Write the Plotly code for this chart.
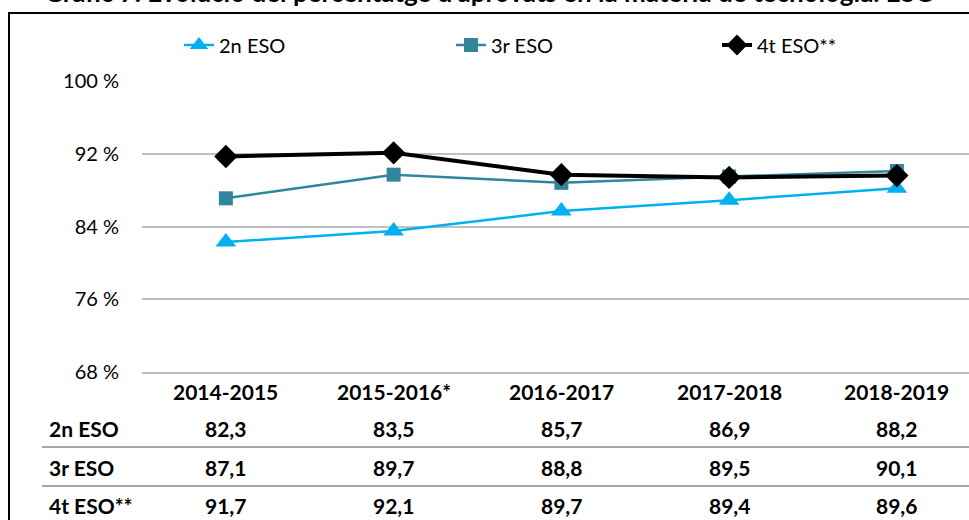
import plotly.graph_objects as go

categories = ["2014-2015", "2015-2016*", "2016-2017", "2017-2018", "2018-2019"]
series_names = ["2n ESO", "3r ESO", "4t ESO**"]
eso2 = [82.3, 83.5, 85.7, 86.9, 88.2]
eso3 = [87.1, 89.7, 88.8, 89.5, 90.1]
eso4 = [91.7, 92.1, 89.7, 89.4, 89.6]
y_ticks = [68, 76, 84, 92, 100]
title_text = "Gràfic 7. Evolució del percentatge d'aprovats en la matèria de tecnologia. ESO"

FONT = "Lato"
W, H = 969, 520
ML, MR, MT, MB = 142, 0, 81, 148
PW = W - ML - MR
PH = H - MT - MB

def px_x(p):
    return (p - ML) / PW

def px_y(p):
    return 1 - (p - MT) / PH

styles = [
    dict(color="#00B0F0", width=2.5, symbol="triangle-up", size=18),
    dict(color="#31859C", width=2.5, symbol="square", size=14),
    dict(color="#000000", width=4, symbol="diamond", size=18),
]
values = [eso2, eso3, eso4]
legend_ids = ["legend", "legend2", "legend3"]
legend_x = [179, 451, 717]

fig = go.Figure()
xs = list(range(len(categories)))
for name, vals, st, lg in zip(series_names, values, styles, legend_ids):
    fig.add_trace(go.Scatter(
        x=xs, y=vals, name=name, mode="lines+markers", legend=lg,
        line=dict(color=st["color"], width=st["width"]),
        marker=dict(symbol=st["symbol"], size=st["size"], color=st["color"]),
    ))

annotations = []
# title (cut off at top of the picture)
annotations.append(dict(text="<b>" + title_text + "</b>", xref="paper", yref="paper",
                        x=px_x(490), y=px_y(-8), xanchor="center", yanchor="middle",
                        showarrow=False, font=dict(family=FONT, size=26, color="black")))
# table header
for i, c in enumerate(categories):
    annotations.append(dict(text="<b>" + c + "</b>", xref="x", yref="paper", x=i, y=px_y(391),
                            xanchor="center", yanchor="middle", showarrow=False,
                            font=dict(family=FONT, size=21, color="black")))
row_y = [428, 467, 505]
for r, (name, vals) in enumerate(zip(series_names, values)):
    annotations.append(dict(text="<b>" + name + "</b>", xref="paper", yref="paper",
                            x=px_x(47), y=px_y(row_y[r]), xanchor="left", yanchor="middle",
                            showarrow=False, font=dict(family=FONT, size=21, color="black")))
    for i, v in enumerate(vals):
        annotations.append(dict(text="<b>" + f"{v:.1f}".replace(".", ",") + "</b>",
                                xref="x", yref="paper", x=i, y=px_y(row_y[r]),
                                xanchor="center", yanchor="middle", showarrow=False,
                                font=dict(family=FONT, size=21, color="black")))

shapes = []
for yy in [447, 486]:
    shapes.append(dict(type="line", xref="paper", yref="paper", x0=px_x(42), x1=px_x(1000),
                       y0=px_y(yy), y1=px_y(yy), line=dict(color="#A6A6A6", width=2)))
# outer frame
shapes.append(dict(type="rect", xref="paper", yref="paper", x0=px_x(9), x1=px_x(1100),
                   y0=px_y(13), y1=px_y(600), line=dict(color="black", width=2),
                   fillcolor="rgba(0,0,0,0)", layer="above"))

legend_common = dict(orientation="h", xanchor="left", yanchor="middle",
                     font=dict(family=FONT, size=20, color="black"),
                     bgcolor="rgba(0,0,0,0)")

fig.update_layout(
    width=W, height=H,
    margin=dict(l=ML, r=MR, t=MT, b=MB),
    paper_bgcolor="white", plot_bgcolor="white",
    font=dict(family=FONT, size=20, color="black"),
    showlegend=True,
    legend=dict(x=px_x(legend_x[0]), y=px_y(45), **legend_common),
    legend2=dict(x=px_x(legend_x[1]), y=px_y(45), **legend_common),
    legend3=dict(x=px_x(legend_x[2]), y=px_y(45), **legend_common),
    xaxis=dict(range=[-0.5, 4.43], showgrid=False, showticklabels=False, ticks="",
               showline=True, linecolor="#BFBFBF", linewidth=2, zeroline=False, fixedrange=True),
    yaxis=dict(range=[68, 100], tickvals=y_ticks, ticktext=[f"{t} %" for t in y_ticks],
               showgrid=True, gridcolor="#BFBFBF", gridwidth=2, zeroline=False,
               showline=False, ticks="outside", ticklen=18, tickcolor="rgba(0,0,0,0)",
               tickfont=dict(family=FONT, size=20, color="black")),
    annotations=annotations, shapes=shapes,
)

fig.write_html("out.html", config={"displayModeBar": False},
               post_script="document.body.style.margin='0';document.body.style.overflow='hidden';")
